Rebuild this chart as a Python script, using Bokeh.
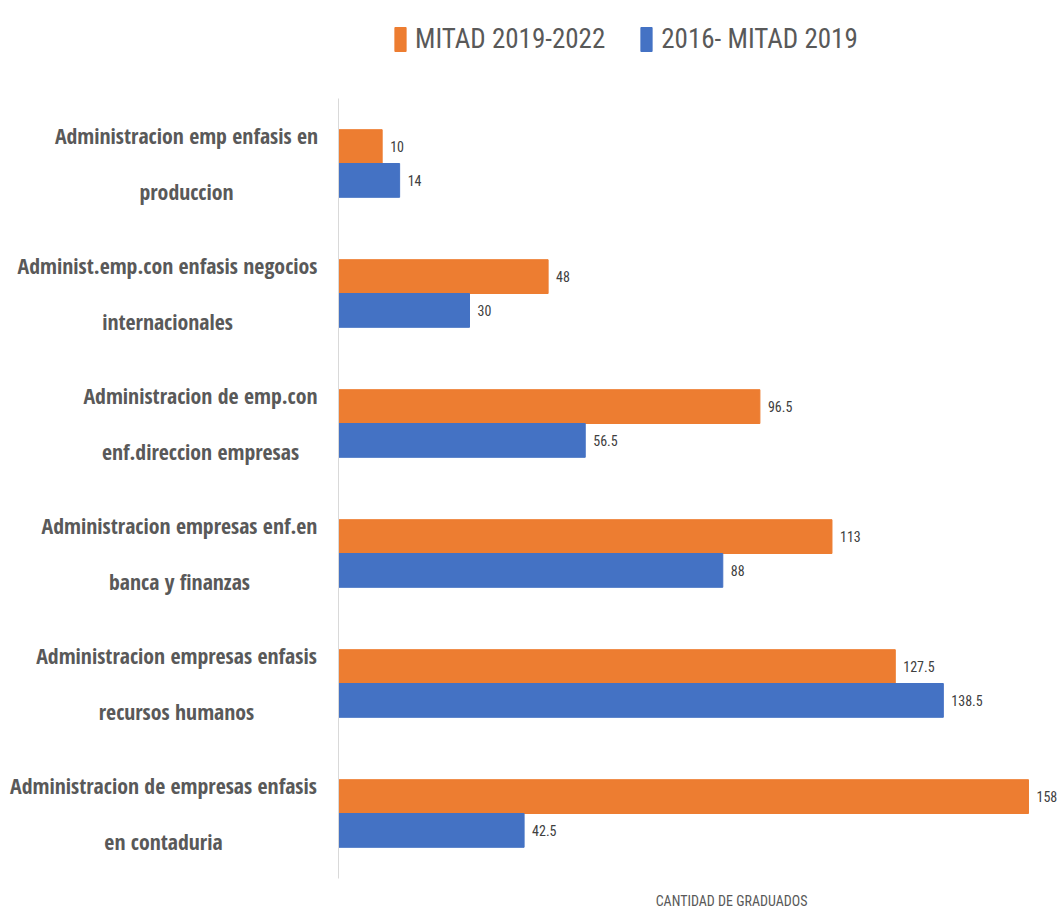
from bokeh.plotting import figure
from bokeh.models import ColumnDataSource, Range1d, Label, Legend, LegendItem
from bokeh.transform import dodge
from bokeh.core.properties import value
from bokeh.embed import file_html
from bokeh.resources import INLINE

# ---- data ----
categories = [
    "Administracion emp enfasis en\nproduccion",
    "Administ.emp.con enfasis negocios\ninternacionales",
    "Administracion de emp.con\nenf.direccion empresas",
    "Administracion empresas enf.en\nbanca y finanzas",
    "Administracion empresas enfasis\nrecursos humanos",
    "Administracion de empresas enfasis\nen contaduria",
]
mitad_2019_2022 = [10, 48, 96.5, 113, 127.5, 158]
y2016_mitad_2019 = [14, 30, 56.5, 88, 138.5, 42.5]
series_names = ["MITAD 2019-2022", "2016- MITAD 2019"]
x_label = "CANTIDAD DE GRADUADOS"

# ---- layout / style ----
W, H_PX = 1058, 912
X0_PX = 338          # pixel position of value 0
PX_PER_UNIT = 4.367  # horizontal scale
ROW_PX = 130         # pixel height of one category row
ROW0_PX = 163        # pixel centre of the first row
label_offsets = [-152, -171, -138, -159, -162, -175]  # centre of category label, px from value 0
BOLD_FONT = "Open Sans Condensed"
FONT = "Roboto Condensed"
ORANGE = "#ED7D31"
BLUE = "#4472C4"
BAR_H = 0.26

n = len(categories)
idx = list(range(n))
fmt = lambda v: f"{v:g}"
src = ColumnDataSource(dict(
    idx=idx,
    cat=categories,
    a=mitad_2019_2022,
    b=y2016_mitad_2019,
    a_txt=[fmt(v) for v in mitad_2019_2022],
    b_txt=[fmt(v) for v in y2016_mitad_2019],
    zero=[0] * n,
    off=label_offsets,
))

x_start = -X0_PX / PX_PER_UNIT
x_end = (W - X0_PX) / PX_PER_UNIT
y_top = -ROW0_PX / ROW_PX
y_bottom = (H_PX - ROW0_PX) / ROW_PX

p = figure(
    width=W, height=H_PX,
    x_range=Range1d(x_start, x_end),
    y_range=Range1d(y_bottom, y_top),
    output_backend="svg", toolbar_location=None,
    x_axis_location=None, y_axis_location=None,
    min_border=0,
)
p.outline_line_color = None
p.xgrid.visible = False
p.ygrid.visible = False

ra = p.hbar(y=dodge("idx", -BAR_H / 2), right="a", left=0, height=BAR_H,
            source=src, fill_color=ORANGE, line_color=ORANGE)
rb = p.hbar(y=dodge("idx", BAR_H / 2), right="b", left=0, height=BAR_H,
            source=src, fill_color=BLUE, line_color=BLUE)

# vertical category axis line at value 0
p.segment(x0=[0], y0=[-0.5], x1=[0], y1=[n - 0.5], line_color="#d9d9d9", line_width=1)

common = dict(source=src, x_offset=8, text_baseline="middle", text_font_size="14px",
              text_font=value(FONT), text_color="#404040")
p.text(x="a", y=dodge("idx", -BAR_H / 2), text="a_txt", **common)
p.text(x="b", y=dodge("idx", BAR_H / 2), text="b_txt", **common)

# category labels
p.text(x="zero", y="idx", x_offset="off", text="cat", source=src,
       text_align="center", text_baseline="middle", text_font=value(BOLD_FONT),
       text_font_style="bold", text_font_size="21.8px", text_color="#595959",
       text_line_height=1.95)

# axis title
p.add_layout(Label(x=90, y=(900 - ROW0_PX) / ROW_PX, text=x_label, text_align="center",
                   text_baseline="middle", text_font=FONT, text_font_size="14px",
                   text_color="#595959"))

legend = Legend(items=[LegendItem(label=series_names[0], renderers=[ra]),
                       LegendItem(label=series_names[1], renderers=[rb])],
                location=(393, H_PX - 55), orientation="horizontal",
                glyph_width=14, glyph_height=30, label_text_font=FONT,
                label_text_font_size="27px", label_text_color="#595959",
                label_standoff=8, spacing=34, padding=0, margin=0,
                border_line_color=None, background_fill_alpha=0)
p.add_layout(legend)

open("out.html", "w").write(file_html(p, INLINE))
